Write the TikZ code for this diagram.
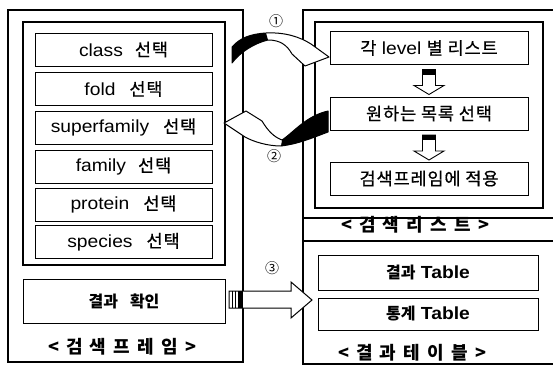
\documentclass[tikz,border=0pt]{standalone}
\usepackage{fontspec}
\setmainfont{Liberation Sans}[FakeStretch=1.1]
\newfontfamily\kr{Noto Sans CJK KR}[LetterSpace=5, FakeBold=0.6]
\newfontfamily\krb{Noto Sans CJK KR}
\newfontfamily\krcap{Noto Sans CJK KR}[LetterSpace=40]
\tikzset{
  downarr/.pic={
    \draw[fill=white, line width=0.9pt, line join=miter]
      (-6.5,0) -- (6.5,0) -- (6.5,16) -- (15,16) -- (0,25) -- (-15,16) -- (-6.5,16) -- cycle;
    \fill (-6.5,0) rectangle (6.5,5);
  }
}
\begin{document}
\begin{tikzpicture}[x=1pt,y=-1pt,
  frame/.style={draw=black, line width=1.2pt},
  sel/.style={draw=black, line width=1pt, minimum width=177pt, minimum height=33pt,
              inner sep=0pt, font=\fontsize{17.5}{20}\selectfont},
  lst/.style={sel, minimum width=198pt},
  tbl/.style={sel, minimum width=220pt},
  captxt/.style={font=\fontsize{18}{20}\selectfont\krcap\bfseries, inner sep=0pt},
  num/.style={font=\fontsize{14}{16}\selectfont\krb, inner sep=0pt},
  ribbon/.style={fill=white, draw=black, line width=1pt, line join=round},
]
\useasboundingbox (0,0) rectangle (553,367);
\fill[white] (0,0) rectangle (553,367);
\clip (0,0) rectangle (553,367);

% frames
\draw[frame] (8,10) rectangle (243,362);
\draw[frame] (23,22) rectangle (225,265);
\draw[frame] (303,10) rectangle (565,241);
\draw[frame] (315,22) rectangle (543,208);
\draw[frame] (303,218) rectangle (565,364);

% left: selection boxes
\node[sel] (class) at (123.5,49.5) {class\hspace{12pt}{\kr 선택}};
\node[sel] (fold) at (123.5,89) {fold\hspace{14pt}{\kr 선택}};
\node[sel] (superfamily) at (123.5,127.5) {superfamily\hspace{14pt}{\kr 선택}};
\node[sel] (family) at (123.5,166.5) {family\hspace{12pt}{\kr 선택}};
\node[sel] (protein) at (123.5,204.5) {protein\hspace{14pt}{\kr 선택}};
\node[sel] (species) at (123.5,242) {species\hspace{14pt}{\kr 선택}};
\node[sel, minimum width=202pt, minimum height=44pt] (check) at (124,301)
  {\fontsize{16}{18}\selectfont\krb\bfseries 결과\hspace{12pt}확인};
\node[captxt] (capL) at (122,347) {<검색프레임>};

% right top: list
\node[lst] (lvl) at (429,48) {{\kr 각} level {\kr 별 리스트}};
\node[lst] (want) at (429,113.5) {\kr 원하는 목록 선택};
\node[lst] (apply) at (429,178.5) {\kr 검색프레임에 적용};
\node[captxt] (capR) at (415,225) {<검색리스트>};

% right bottom: tables
\node[tbl, minimum height=35pt] (res) at (428,272.5)
  {{\fontsize{16}{18}\selectfont\krb\bfseries 결과} \textbf{Table}};
\node[tbl, minimum height=32pt] (stat) at (428,314)
  {{\fontsize{16}{18}\selectfont\krb\bfseries 통계} \textbf{Table}};
\node[captxt] (capT) at (412,353) {<결과테이블>};

% small down arrows
\path (lvl.south) ++(0,4.5) pic {downarr};
\path (want.south) ++(0,4.5) pic {downarr};

% upper curved arrow (1)
\path[ribbon] (329,57) -- (305,66) -- (292,54)
  .. controls (287,45) and (280,40) .. (268,40)
  .. controls (255,43) and (240,52) .. (232,63)
  -- (232,47)
  .. controls (240,38) and (250,34) .. (266,33)
  .. controls (285,32) and (300,37) .. (311,44) -- cycle;
\fill (232,47) .. controls (240,38) and (250,34) .. (266,33)
  -- (268,40) .. controls (255,43) and (240,52) .. (232,63) -- cycle;

% lower curved arrow (2)
\path[ribbon] (224,123) -- (246,111) -- (262,121)
  .. controls (268,131) and (274,137) .. (282,140)
  .. controls (294,132) and (306,116) .. (328,111)
  -- (328,132)
  .. controls (312,138) and (298,144) .. (281,146)
  .. controls (268,146) and (254,142) .. (245,137) -- cycle;
\fill (282,140) .. controls (294,132) and (306,116) .. (328,111)
  -- (328,132) .. controls (312,138) and (298,144) .. (281,146) -- cycle;

% big arrow (3)
\draw[ribbon, line join=miter] (229,291) -- (291,291) -- (291,282) -- (312,300)
  -- (291,318) -- (291,308) -- (229,308) -- cycle;
\draw[line width=0.6pt] (232.5,291) -- (232.5,308) (235.5,291) -- (235.5,308);
\fill (238,291) rectangle (243,308);

% numbers
\node[num] (n1) at (276,21) {①};
\node[num] (n2) at (274,156) {②};
\node[num] (n3) at (272,268) {③};
\end{tikzpicture}
\end{document}
